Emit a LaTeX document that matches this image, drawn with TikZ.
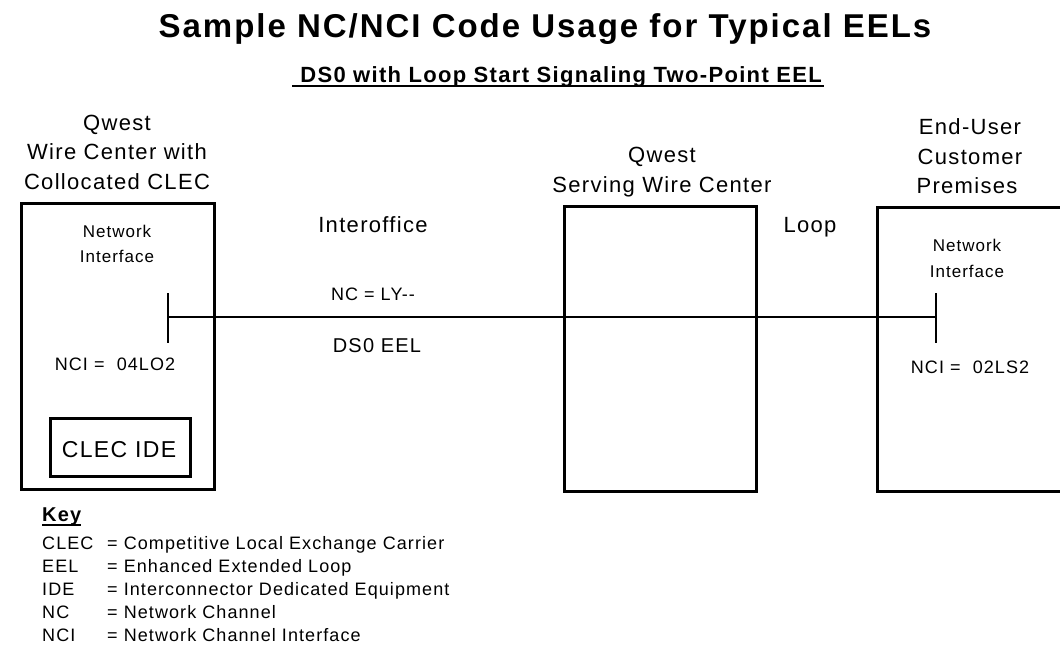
\documentclass[tikz,border=0pt]{standalone}
\usepackage{fontspec}
\setmainfont{Liberation Sans}[LetterSpace=6]
\newcommand{\fsz}[1]{\fontsize{#1}{#1}\selectfont}
\begin{document}
\begin{tikzpicture}[x=1pt,y=-1pt,
  box/.style={draw, line width=2.8pt, inner sep=0pt, anchor=north west},
  txt/.style={anchor=base, inner sep=0pt},
  big/.style={txt, font=\fsz{22}},
  small/.style={txt, font=\fsz{17}},
  mid/.style={txt, font=\fsz{18}},
  keyl/.style={anchor=base west, inner sep=0pt, font=\fsz{18}},
  wire/.style={line width=2.8pt}
]
\clip (0,0) rectangle (1060,653);
\fill[white] (0,0) rectangle (1060,653);

% titles
\node[txt, font=\fsz{33}\bfseries] (title) at (545,37) {Sample NC/NCI Code Usage for Typical EELs};
\node[txt, font=\fsz{22}\bfseries] (sub) at (561,82) {DS0 with Loop Start Signaling Two-Point EEL};
\draw[line width=2pt] ([xshift=-8pt,yshift=-3.5pt]sub.base west) -- ([xshift=2pt,yshift=-3.5pt]sub.base east);

% boxes
\node[box, minimum width=193pt, minimum height=286pt] (lbox) at (20,202) {};
\node[box, minimum width=192pt, minimum height=285pt] (mbox) at (563,205) {};
\node[box, minimum width=220pt, minimum height=284pt] (rbox) at (876,206) {};
\node[box, minimum width=140pt, minimum height=58pt] (ide) at (49,417) {};
\node[txt, font=\fsz{23}] (idet) at (119,457) {CLEC IDE};

% location labels
\node[big] (l1) at (117,130) {Qwest};
\node[big] (l2) at (117,159) {Wire Center with};
\node[big] (l3) at (117,189) {Collocated CLEC};
\node[big] (m1) at (662,162) {Qwest};
\node[big] (m2) at (662,192) {Serving Wire Center};
\node[big] (r1) at (970,134) {End-User};
\node[big] (r2) at (970,164) {Customer};
\node[big] (r3) at (967,193) {Premises};

% network interfaces
\node[small] (lni1) at (117,237) {Network};
\node[small] (lni2) at (117,262) {Interface};
\node[small] (rni1) at (967,251) {Network};
\node[small] (rni2) at (967,277) {Interface};
\node[mid] (lnci) at (115,370) {NCI =\ \ 04LO2};
\node[mid] (rnci) at (970,373) {NCI =\ \ 02LS2};

% ticks and connector
\coordinate (lt) at (168,317);
\coordinate (rt) at (936,317);
\draw[wire] (lt) ++(0,-24) -- ++(0,50);
\draw[wire] (rt) ++(0,-24) -- ++(0,50);
\draw[wire] (lt) -- (rt);

% connector labels
\node[big] (inter) at (373,232) {Interoffice};
\node[big] (loop) at (810,232) {Loop};
\node[mid] (nc) at (373,300) {NC = LY-{}-};
\node[txt, font=\fsz{20}] (eel) at (377,352) {DS0 EEL};

% key
\node[keyl, font=\fsz{20}\bfseries] (key) at (42,521) {Key};
\draw[line width=2pt] ([yshift=-3.5pt]key.base west) -- ([yshift=-3.5pt]key.base east);
\node[keyl] (k1a) at (42,549) {CLEC};
\node[keyl] (k1b) at (107,549) {= Competitive Local Exchange Carrier};
\node[keyl] (k2a) at (42,572) {EEL};
\node[keyl] (k2b) at (107,572) {= Enhanced Extended Loop};
\node[keyl] (k3a) at (42,595) {IDE};
\node[keyl] (k3b) at (107,595) {= Interconnector Dedicated Equipment};
\node[keyl] (k4a) at (42,618) {NC};
\node[keyl] (k4b) at (107,618) {= Network Channel};
\node[keyl] (k5a) at (42,641) {NCI};
\node[keyl] (k5b) at (107,641) {= Network Channel Interface};
\end{tikzpicture}
\end{document}
